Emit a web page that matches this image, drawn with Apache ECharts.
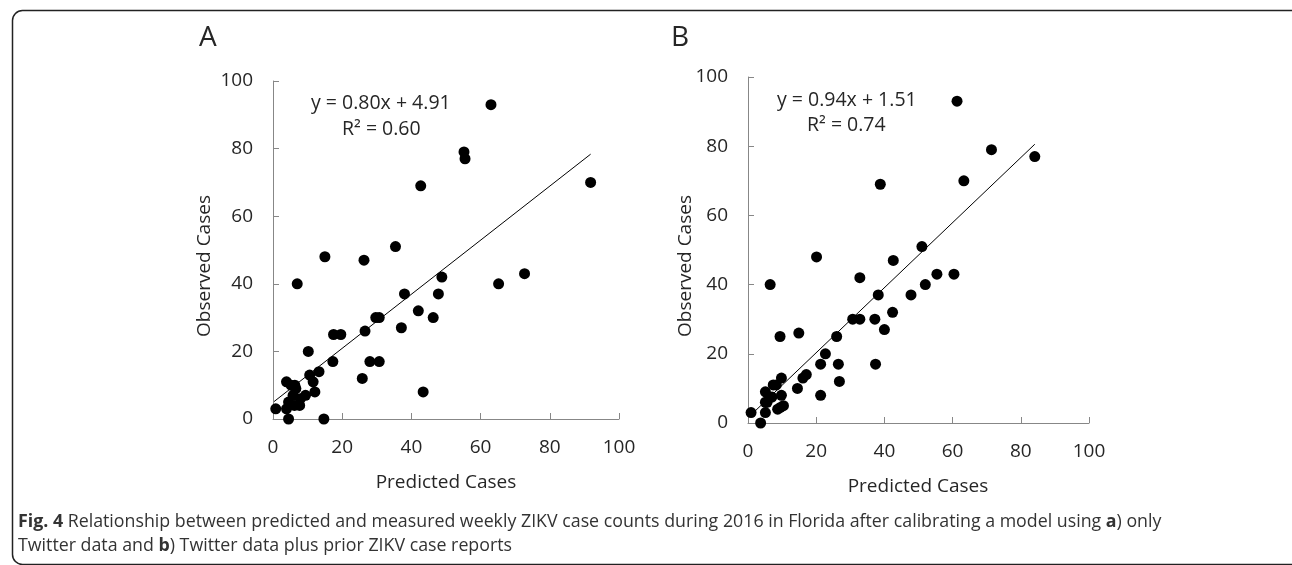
<!DOCTYPE html>
<html>
<head>
<meta charset="utf-8">
<script src="https://cdn.jsdelivr.net/npm/echarts@6/dist/echarts.min.js"></script>
<style>
  html, body { margin: 0; padding: 0; background: #fff; }
  #chart { width: 1292px; height: 565px; }
</style>
</head>
<body>
<div id="chart"></div>
<script>
// 数据：[predicted, observed]
const pointsA = [
  [0.8, 3], [3.9, 3], [4.5, 0], [3.9, 11], [4.5, 5], [5.2, 10], [6.3, 10], [6.6, 9],
  [5.8, 7], [6.2, 4], [7.7, 4], [7.9, 6], [9.4, 7], [7.0, 40], [10.2, 20], [10.6, 13],
  [11.6, 11], [12.1, 8], [13.3, 14], [14.7, 0], [15.0, 48], [17.3, 17], [17.5, 25],
  [19.6, 25], [25.8, 12], [26.3, 47], [26.6, 26], [28.0, 17], [29.7, 30], [30.7, 17],
  [30.7, 30], [35.4, 51], [37.1, 27], [38.0, 37], [42.0, 32], [42.7, 69], [43.4, 8],
  [46.3, 30], [47.8, 37], [48.8, 42], [55.2, 79], [55.5, 77], [63.0, 93], [65.2, 40],
  [72.7, 43], [91.8, 70]
];
const pointsB = [
  [0.9, 3], [3.7, 0], [5.1, 3], [5.1, 9], [5.1, 6], [5.6, 6], [6.5, 40], [7.0, 7.5],
  [7.4, 11], [8.3, 11], [9.4, 25], [9.8, 13], [9.8, 8], [8.7, 4], [9.5, 4.5], [10.4, 5],
  [14.5, 10], [14.9, 26], [16.1, 13], [17.1, 14], [20.1, 48], [21.3, 17], [21.3, 8],
  [22.7, 20], [26.0, 25], [26.5, 17], [26.8, 12], [30.7, 30], [32.8, 30], [32.8, 42],
  [37.2, 30], [37.4, 17], [38.2, 37], [38.8, 69], [40.0, 27], [42.4, 32], [42.6, 47],
  [47.8, 37], [51.0, 51], [52.0, 40], [55.4, 43], [60.4, 43], [61.3, 93], [63.3, 70],
  [71.4, 79], [84.1, 77]
];
// 趋势线端点（y = 0.80x + 4.91 / y = 0.94x + 1.51）
const trendA = [[0.3, 5.15], [91.8, 78.35]];
const trendB = [[1.5, 2.92], [84.1, 80.56]];
const equationA = ["y = 0.80x + 4.91", "R² = 0.60"];
const equationB = ["y = 0.94x + 1.51", "R² = 0.74"];
const axisTicks = [0, 20, 40, 60, 80, 100];

const FONT = "'Open Sans', sans-serif";
const TEXT = "#262626";
const AXIS = "#878787";

function valueAxis(gridIndex, isY) {
  return {
    type: "value",
    gridIndex: gridIndex,
    min: axisTicks[0],
    max: axisTicks[axisTicks.length - 1],
    interval: 20,
    axisLine: { show: true, onZero: false, lineStyle: { color: AXIS, width: 1 } },
    axisTick: { show: true, inside: true, length: 6, lineStyle: { color: AXIS } },
    axisLabel: { color: TEXT, fontSize: 19, fontFamily: FONT, margin: isY ? 20 : 19 },
    splitLine: { show: false }
  };
}

function scatter(idx, data) {
  return {
    type: "scatter", xAxisIndex: idx, yAxisIndex: idx, data: data,
    symbolSize: 11, itemStyle: { color: "#000", opacity: 1 }, silent: true
  };
}

function trend(idx, data) {
  return {
    type: "line", xAxisIndex: idx, yAxisIndex: idx, data: data,
    symbol: "none", lineStyle: { color: "#000", width: 1 }, silent: true
  };
}

function label(x, y, text, size, opts) {
  return Object.assign({
    type: "text", x: x, y: y,
    style: { text: text, fill: TEXT, font: size + "px " + FONT, align: "left", verticalAlign: "middle" }
  }, opts || {});
}

function centered(x, y, text, size, rotation) {
  return {
    type: "text", x: x, y: y, rotation: rotation || 0,
    style: { text: text, fill: TEXT, font: size + "px " + FONT, align: "center", verticalAlign: "middle" }
  };
}

const CAPTION_SIZE = 17.8;
const captionRich = { b: { fontWeight: "bold", fontSize: CAPTION_SIZE, fontFamily: FONT, fill: "#333" } };

const chart = echarts.init(document.getElementById("chart"), null, { renderer: "canvas" });
chart.setOption({
  animation: false,
  backgroundColor: "#fff",
  grid: [
    { left: 273, top: 81, width: 346, height: 338 },
    { left: 748, top: 77, width: 341, height: 346 }
  ],
  xAxis: [valueAxis(0, false), valueAxis(1, false)],
  yAxis: [valueAxis(0, true), valueAxis(1, true)],
  series: [scatter(0, pointsA), trend(0, trendA), scatter(1, pointsB), trend(1, trendB)],
  graphic: [
    { type: "rect", left: 10, top: 8,
      shape: { width: 1300, height: 554, r: 10 },
      style: { fill: "none", stroke: "#222", lineWidth: 1.5 } },
    label(199, 38, "A", 28, null),
    label(671, 38, "B", 28, null),
    label(311, 103, equationA[0], 19.5),
    label(342, 129, equationA[1], 19.5),
    label(777, 100, equationB[0], 19.5),
    label(807, 125, equationB[1], 19.5),
    centered(446, 483, "Predicted Cases", 19),
    centered(918, 487, "Predicted Cases", 19),
    centered(205, 266, "Observed Cases", 19, Math.PI / 2),
    centered(686, 266, "Observed Cases", 19, Math.PI / 2),
    { type: "text", x: 18, y: 522,
      style: {
        text: "{b|Fig. 4} Relationship between predicted and measured weekly ZIKV case counts during 2016 in Florida after calibrating a model using {b|a}) only",
        fill: "#333", font: CAPTION_SIZE + "px " + FONT, verticalAlign: "middle", rich: captionRich
      } },
    { type: "text", x: 18, y: 546,
      style: {
        text: "Twitter data and {b|b}) Twitter data plus prior ZIKV case reports",
        fill: "#333", font: CAPTION_SIZE + "px " + FONT, verticalAlign: "middle", rich: captionRich
      } }
  ]
});
</script>
</body>
</html>
